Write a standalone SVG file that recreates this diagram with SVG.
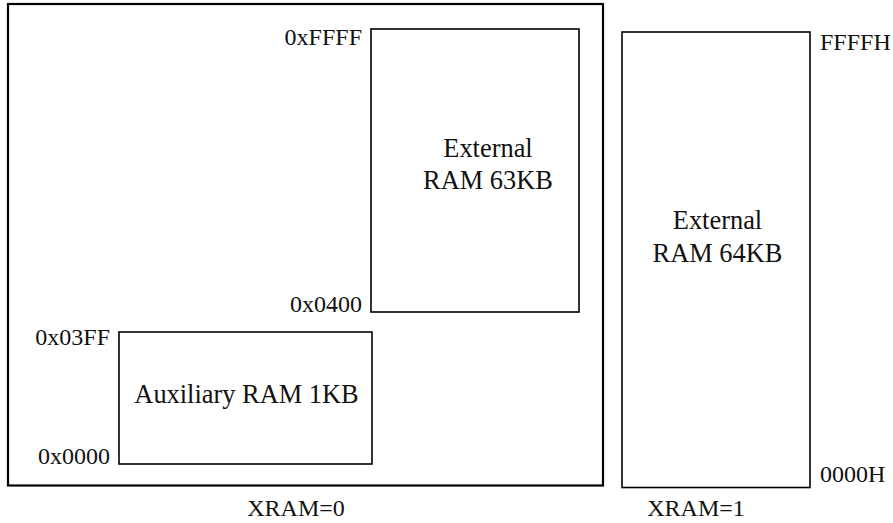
<svg xmlns="http://www.w3.org/2000/svg" width="893" height="523" viewBox="0 0 893 523">
<style>
.box{fill:none;stroke:#000;stroke-width:1.6}
.outer{fill:none;stroke:#000;stroke-width:2.2}
.r{text-anchor:end}
.c{text-anchor:middle}
.lbl{font-size:26.4px}
</style>
<rect width="893" height="523" fill="#fff"/>
<g font-family="Liberation Serif, serif" font-size="24" fill="#111">
<g id="xram0">
<rect class="outer" x="8" y="4" width="595" height="481.5"/>
<text class="c" x="296" y="516">XRAM=0</text>
</g>
<g id="ext63">
<rect class="box" x="371" y="29" width="208" height="283"/>
<text class="c lbl" x="488" y="157">External</text>
<text class="c lbl" x="488" y="189">RAM 63KB</text>
<text class="r" x="362" y="45">0xFFFF</text>
<text class="r" x="362" y="312">0x0400</text>
</g>
<g id="aux">
<rect class="box" x="119" y="332" width="253" height="132"/>
<text class="c lbl" x="246.5" y="403">Auxiliary RAM 1KB</text>
<text class="r" x="110" y="345">0x03FF</text>
<text class="r" x="110" y="464">0x0000</text>
</g>
<g id="ext64">
<rect class="box" x="622" y="32" width="188" height="455.5"/>
<text class="c lbl" x="717.5" y="229">External</text>
<text class="c lbl" x="717.5" y="262">RAM 64KB</text>
<text x="820" y="50">FFFFH</text>
<text x="820" y="482">0000H</text>
<text class="c" x="696" y="516">XRAM=1</text>
</g>
</g>
<g id="connectors"/>
</svg>
